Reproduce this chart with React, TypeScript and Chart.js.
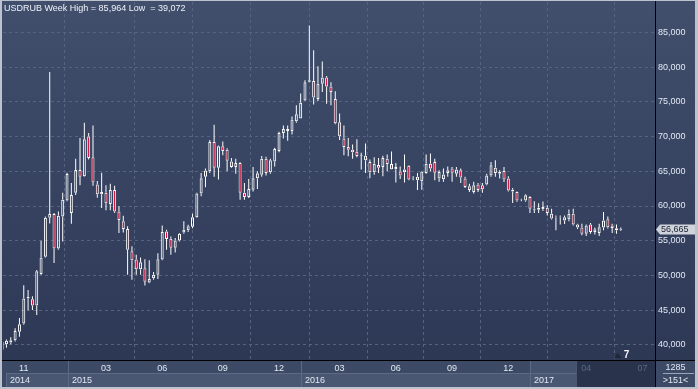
import React, { useEffect, useRef } from "react";
import { Chart, registerables } from "chart.js";

Chart.register(...registerables);

// Weekly USDRUB candles (RUB per USD)
const OPEN = [
  39.30, 40.10, 40.35, 40.70, 41.90, 43.10, 46.70, 46.60, 45.70, 50.20,
  52.70, 58.30, 58.85, 53.90, 58.50, 60.80, 59.00, 61.90, 65.20, 64.30,
  70.00, 67.00, 63.10, 61.70, 61.90, 60.30, 62.30, 59.20, 57.80, 56.70,
  53.50, 52.30, 50.90, 51.05, 49.00, 49.60, 50.10, 52.30, 56.35, 55.30,
  54.00, 55.05, 56.20, 56.50, 57.00, 58.40, 61.80, 64.20, 65.00, 69.20,
  65.50, 68.60, 68.10, 66.40, 65.60, 66.20, 61.90, 61.30, 62.35, 64.00,
  64.50, 66.80, 64.85, 66.40, 67.90, 70.50, 71.10, 70.80, 72.20, 72.60,
  75.20, 77.90, 78.00, 75.40, 77.60, 78.50, 77.20, 75.40, 72.05, 69.70,
  68.50, 68.10, 67.80, 67.20, 67.25, 66.35, 64.85, 65.90, 65.60, 66.80,
  66.05, 65.30, 64.95, 64.85, 65.80, 63.90, 64.20, 63.55, 64.75, 66.10,
  66.35, 63.95, 63.85, 64.75, 65.40, 64.65, 65.15, 63.95, 62.85, 62.00,
  63.10, 63.00, 63.10, 64.40, 65.50, 64.90, 65.05, 63.95, 62.35, 62.00,
  60.85, 60.80, 61.30, 59.45, 59.45, 59.55, 59.75, 58.90, 58.40, 58.40,
  57.90, 58.10, 58.90, 57.35, 56.90, 56.00, 57.35, 56.25, 56.10, 56.90,
  58.10, 57.20, 56.80, 56.50,
];
const HIGH = [
  40.50, 40.80, 41.10, 42.40, 43.90, 48.60, 47.90, 47.00, 50.80, 55.00,
  58.50, 79.30, 59.00, 59.20, 61.90, 64.80, 63.30, 66.80, 69.80, 72.00,
  70.50, 71.60, 63.60, 64.80, 63.00, 63.20, 62.90, 59.95, 58.60, 57.10,
  54.20, 53.00, 52.60, 52.35, 52.20, 50.50, 53.20, 57.20, 56.60, 55.60,
  55.40, 56.10, 57.80, 57.30, 58.90, 61.90, 64.75, 65.40, 69.50, 71.70,
  68.70, 69.30, 68.30, 66.90, 66.80, 66.30, 63.30, 63.90, 65.60, 65.00,
  67.20, 67.10, 66.80, 68.40, 70.70, 71.60, 71.60, 72.90, 74.50, 76.20,
  78.10, 85.964, 82.40, 80.10, 80.80, 78.70, 77.80, 76.50, 73.30, 71.60,
  69.80, 68.85, 69.60, 67.65, 69.00, 66.70, 67.00, 66.90, 67.25, 67.40,
  67.85, 66.20, 65.70, 67.40, 65.85, 64.30, 64.75, 65.00, 67.40, 67.55,
  66.80, 65.15, 65.40, 65.70, 65.60, 65.60, 65.40, 64.20, 63.20, 63.50,
  63.30, 63.30, 64.65, 66.35, 66.60, 65.15, 65.60, 64.30, 62.60, 62.10,
  61.05, 61.70, 61.40, 60.70, 60.40, 60.65, 60.10, 59.60, 58.65, 58.65,
  58.65, 59.50, 59.60, 57.45, 57.45, 57.35, 57.55, 56.90, 57.45, 59.15,
  58.50, 57.45, 57.35, 56.90,
];
const LOW = [
  39.072, 39.60, 40.10, 40.50, 41.20, 42.90, 45.00, 45.05, 44.30, 50.10,
  52.60, 57.50, 51.80, 53.70, 54.90, 60.70, 57.45, 61.60, 63.00, 64.20,
  66.70, 62.90, 61.20, 59.70, 59.40, 59.40, 59.00, 56.10, 56.20, 50.10,
  49.40, 50.10, 50.10, 48.55, 48.90, 49.40, 49.50, 52.20, 53.70, 53.00,
  53.30, 54.90, 56.00, 56.25, 56.80, 58.30, 61.40, 62.70, 64.75, 64.20,
  63.80, 67.30, 65.00, 65.50, 64.65, 60.90, 60.90, 61.15, 62.10, 62.45,
  64.20, 64.40, 64.65, 65.70, 67.75, 69.70, 69.40, 70.30, 72.00, 72.60,
  75.10, 77.80, 74.60, 75.10, 76.40, 74.70, 74.50, 71.75, 69.50, 67.30,
  67.15, 66.80, 67.00, 65.25, 64.75, 64.00, 64.50, 64.75, 64.30, 65.00,
  65.25, 63.40, 63.90, 63.40, 63.70, 63.70, 62.30, 62.35, 64.65, 65.00,
  63.70, 63.50, 63.50, 64.20, 63.50, 64.20, 63.30, 62.60, 62.00, 61.80,
  62.00, 61.90, 63.00, 64.20, 64.20, 63.95, 63.45, 62.10, 60.45, 60.60,
  60.70, 60.60, 59.00, 59.00, 59.00, 59.30, 58.65, 58.05, 56.50, 57.35,
  57.40, 57.80, 57.20, 56.70, 55.80, 55.70, 56.00, 55.90, 55.70, 56.50,
  56.75, 56.10, 56.00, 56.40,
];
const CLOSE = [
  40.45, 40.60, 40.70, 42.00, 43.00, 46.70, 46.90, 45.70, 50.60, 52.60,
  58.30, 58.85, 53.90, 58.60, 60.90, 64.60, 61.60, 65.20, 64.20, 69.60,
  66.90, 63.40, 61.70, 62.00, 60.40, 62.30, 59.20, 58.00, 56.70, 53.70,
  52.20, 50.90, 51.90, 49.10, 49.50, 50.10, 52.35, 56.25, 55.25, 54.00,
  55.05, 56.00, 56.60, 57.10, 58.40, 61.80, 64.00, 65.10, 69.20, 65.50,
  68.60, 67.90, 66.50, 65.60, 66.20, 61.90, 61.30, 62.45, 64.00, 64.70,
  66.80, 64.75, 66.60, 68.20, 70.50, 71.10, 70.80, 72.45, 73.20, 74.85,
  77.80, 78.10, 75.60, 77.60, 78.50, 77.20, 76.40, 71.90, 70.05, 68.50,
  68.10, 67.75, 67.20, 67.30, 66.60, 64.85, 66.10, 65.50, 66.90, 66.05,
  65.30, 65.60, 64.40, 65.25, 63.80, 63.95, 63.70, 64.95, 66.10, 65.40,
  64.80, 64.90, 64.55, 65.15, 64.80, 65.25, 64.10, 62.75, 62.30, 63.00,
  62.30, 62.40, 64.40, 65.85, 64.75, 64.65, 63.80, 62.25, 62.10, 60.80,
  60.90, 61.55, 59.60, 59.60, 59.75, 59.85, 59.00, 58.20, 58.45, 58.45,
  58.40, 58.90, 57.35, 56.90, 56.00, 57.20, 56.25, 56.65, 56.95, 57.90,
  56.95, 56.85, 56.50, 56.665,
];

const SYMBOL = "USDRUB";
const PERIOD = "Week";
const Y_TICKS = [40, 45, 50, 55, 60, 65, 70, 75, 80, 85];
const MONTH_TICKS = [5, 24, 37, 51, 64, 78, 91, 104, 117, 135, 148];
const MONTH_LABELS = ["11", "03", "06", "09", "12", "03", "06", "09", "12", "04", "07"];
const YEARS = ["2014", "2015", "2016", "2017"];
const YEAR_STARTS = [0.88, 15.14, 69.07, 121.9];
const PROJECTION_START = 132.6;
const X_RANGE = [0.2, 150.9];
const Y_RANGE = [37.84, 89.36];
const CORNER_TOP = "1285";
const CORNER_BOTTOM = ">151<";
const MARKER_TEXT = "7";
const MARKER_AT = 143.2;

const FONT_FAMILY = '"Liberation Sans", Arial, sans-serif';
const FONT = `9px ${FONT_FAMILY}`;
const LABEL = "#e2e9f5";
const DIM = "#5a6987";
const GRID = "#56627e";
const RED = "#e5103a";

const fmt = (v: number) => v.toFixed(3).replace(".", ",");

const framePlugin = {
  id: "frame",
  beforeDraw(chart: any) {
    const { ctx, chartArea: a, scales } = chart;
    const xs = scales.x;
    const W = chart.width;
    const H = chart.height;
    const bandTop = a.bottom;
    const rowMid = a.bottom + 13;
    const bandBottom = H - 2;
    const innerRight = W - 3;
    ctx.save();
    ctx.fillStyle = "#bcc3ce";
    ctx.fillRect(0, 0, W, H);
    const g = ctx.createLinearGradient(0, a.top, 0, a.bottom);
    g.addColorStop(0, "#414f6c");
    g.addColorStop(1, "#2d3855");
    ctx.fillStyle = g;
    ctx.fillRect(2, 1, innerRight - 2, a.bottom - 1);
    // time band
    ctx.fillStyle = "#3d4a65";
    ctx.fillRect(2, bandTop, innerRight - 2, bandBottom - bandTop);
    const xp = Math.round(xs.getPixelForValue(PROJECTION_START));
    for (let k = 0; k < YEARS.length; k++) {
      const x0 = Math.round(xs.getPixelForValue(YEAR_STARTS[k]));
      const x1 = k + 1 < YEARS.length ? Math.round(xs.getPixelForValue(YEAR_STARTS[k + 1])) : xp;
      ctx.fillStyle = "#4a5772";
      ctx.fillRect(x0, rowMid, x1 - x0, bandBottom - rowMid);
      if (k === YEARS.length - 1) {
        ctx.fillStyle = "#46536e";
        ctx.fillRect(x0, bandTop, x1 - x0, rowMid - bandTop);
      }
      ctx.fillStyle = "#5d6a86";
      ctx.fillRect(x0, rowMid, x1 - x0, 1);
      ctx.fillRect(x0, k === 0 ? rowMid : bandTop, 1, bandBottom - (k === 0 ? rowMid : bandTop));
      ctx.fillStyle = LABEL;
      ctx.font = FONT;
      ctx.textBaseline = "middle";
      ctx.textAlign = "left";
      ctx.fillText(YEARS[k], x0 + 4, rowMid + 7.5);
    }
    ctx.fillStyle = "#29334c";
    ctx.fillRect(xp, bandTop, a.right - xp, bandBottom - bandTop);
    ctx.fillStyle = "#4a5772";
    ctx.fillRect(xp, bandTop, 1, bandBottom - bandTop);
    // corner box
    ctx.fillStyle = "#3d4a65";
    ctx.fillRect(a.right, bandTop, innerRight - a.right, bandBottom - bandTop);
    ctx.restore();
  },
  afterDraw(chart: any) {
    const { ctx, chartArea: a, scales } = chart;
    const xs = scales.x;
    const ys = scales.y;
    const W = chart.width;
    const H = chart.height;
    const innerRight = W - 3;
    const bandBottom = H - 2;
    ctx.save();
    // black frame lines
    ctx.strokeStyle = "#000000";
    ctx.lineWidth = 1;
    ctx.beginPath();
    ctx.moveTo(2, a.bottom + 0.5);
    ctx.lineTo(innerRight, a.bottom + 0.5);
    ctx.moveTo(a.right + 0.5, 1);
    ctx.lineTo(a.right + 0.5, bandBottom);
    ctx.stroke();
    // title
    const hi = Math.max(...HIGH);
    const lo = Math.min(...LOW);
    ctx.font = FONT;
    ctx.fillStyle = "#eef2f9";
    ctx.textBaseline = "middle";
    ctx.textAlign = "left";
    ctx.fillText(`${SYMBOL} ${PERIOD} High = ${fmt(hi)} Low  = ${fmt(lo)}`, 4, 8.5);
    // last price tag
    const last = CLOSE[CLOSE.length - 1];
    const yc = Math.round(ys.getPixelForValue(last)) + 0.5;
    const tx = a.right + 1;
    ctx.fillStyle = "#cfd3db";
    ctx.beginPath();
    ctx.moveTo(tx, yc);
    ctx.lineTo(tx + 4, yc - 5);
    ctx.lineTo(innerRight, yc - 5);
    ctx.lineTo(innerRight, yc + 5);
    ctx.lineTo(tx + 4, yc + 5);
    ctx.closePath();
    ctx.fill();
    ctx.fillStyle = "#1b2130";
    ctx.fillText(fmt(last), tx + 5, yc + 0.5);
    // marker
    const mx = xs.getPixelForValue(MARKER_AT);
    const my = a.bottom - 5;
    ctx.fillStyle = "#1f2739";
    ctx.beginPath();
    ctx.moveTo(mx - 8, my + 3);
    ctx.lineTo(mx - 4, my - 2);
    ctx.lineTo(mx, my + 3);
    ctx.closePath();
    ctx.fill();
    ctx.fillStyle = "#f2f5fa";
    ctx.font = `bold 10px ${FONT_FAMILY}`;
    ctx.fillText(MARKER_TEXT, mx + 2, my);
    // corner texts
    const cx = (a.right + innerRight) / 2 + 0.5;
    ctx.font = FONT;
    ctx.textAlign = "center";
    ctx.fillStyle = LABEL;
    ctx.fillText(CORNER_TOP, cx, a.bottom + 7.5);
    ctx.fillStyle = "#9aa6ba";
    ctx.fillRect(a.right + 8, a.bottom + 13, 31, 1);
    ctx.fillStyle = LABEL;
    ctx.fillText(CORNER_BOTTOM, cx, a.bottom + 20.5);
    ctx.restore();
  },
};

export default function App() {
  const ref = useRef<HTMLCanvasElement | null>(null);

  useEffect(() => {
    if (!ref.current) return;
    const idx = OPEN.map((_, i) => i);
    const bodies = idx.map((i) => ({ x: i, y: [OPEN[i], CLOSE[i]] }));
    const upper = idx.map((i) => ({ x: i, y: [Math.max(OPEN[i], CLOSE[i]), HIGH[i]] }));
    const lower = idx.map((i) => ({ x: i, y: [LOW[i], Math.min(OPEN[i], CLOSE[i])] }));

    const chart = new Chart(ref.current, {
      type: "bar",
      data: {
        datasets: [
          {
            label: "body",
            data: bodies as any,
            barThickness: 3,
            backgroundColor: idx.map((i) => (CLOSE[i] < OPEN[i] ? RED : "rgba(0,0,0,0)")),
            borderColor: "#ffffff",
            borderWidth: 1,
            borderSkipped: false,
            inflateAmount: 0,
            grouped: false,
          } as any,
          {
            label: "upper",
            data: upper as any,
            barThickness: 1,
            backgroundColor: "#ffffff",
            borderWidth: 0,
            inflateAmount: 0,
            grouped: false,
          } as any,
          {
            label: "lower",
            data: lower as any,
            barThickness: 1,
            backgroundColor: "#ffffff",
            borderWidth: 0,
            inflateAmount: 0,
            grouped: false,
          } as any,
        ],
      },
      options: {
        responsive: false,
        animation: false,
        devicePixelRatio: 1,
        events: [],
        layout: { padding: { left: 3, right: 3, top: 2, bottom: 2 } },
        plugins: {
          legend: { display: false },
          tooltip: { enabled: false },
          title: { display: false },
        },
        scales: {
          x: {
            type: "linear",
            min: X_RANGE[0],
            max: X_RANGE[1],
            offset: false,
            grid: { color: GRID, lineWidth: 1, drawTicks: false, drawOnChartArea: true },
            border: { display: false, dash: [3, 3] },
            ticks: {
              autoSkip: false,
              maxRotation: 0,
              minRotation: 0,
              padding: 3,
              font: { family: FONT_FAMILY, size: 9 },
              color: (c: any) => (c.tick && c.tick.value >= PROJECTION_START ? DIM : LABEL),
              callback: (v: any) => {
                const k = MONTH_TICKS.indexOf(Number(v));
                return k >= 0 ? MONTH_LABELS[k] : "";
              },
            },
            afterBuildTicks: (s: any) => {
              s.ticks = MONTH_TICKS.map((v) => ({ value: v }));
            },
            afterFit: (s: any) => {
              s.height = 27;
              s.paddingLeft = 0;
              s.paddingRight = 0;
            },
          } as any,
          y: {
            type: "linear",
            position: "right",
            min: Y_RANGE[0],
            max: Y_RANGE[1],
            grid: { color: GRID, lineWidth: 1, drawTicks: false, drawOnChartArea: true },
            border: { display: false, dash: [3, 3] },
            ticks: {
              padding: 3,
              font: { family: FONT_FAMILY, size: 9 },
              color: LABEL,
              callback: (v: any) => fmt(Number(v)),
            },
            afterBuildTicks: (s: any) => {
              s.ticks = Y_TICKS.map((v) => ({ value: v }));
            },
            afterFit: (s: any) => {
              s.width = 40;
              s.paddingTop = 0;
              s.paddingBottom = 0;
            },
          } as any,
        },
      },
      plugins: [framePlugin as any],
    });
    return () => chart.destroy();
  }, []);

  return (
    <div style={{ position: "absolute", left: 0, top: 0, width: 698, height: 389 }}>
      <canvas ref={ref} width={698} height={389} style={{ display: "block" }} />
    </div>
  );
}
